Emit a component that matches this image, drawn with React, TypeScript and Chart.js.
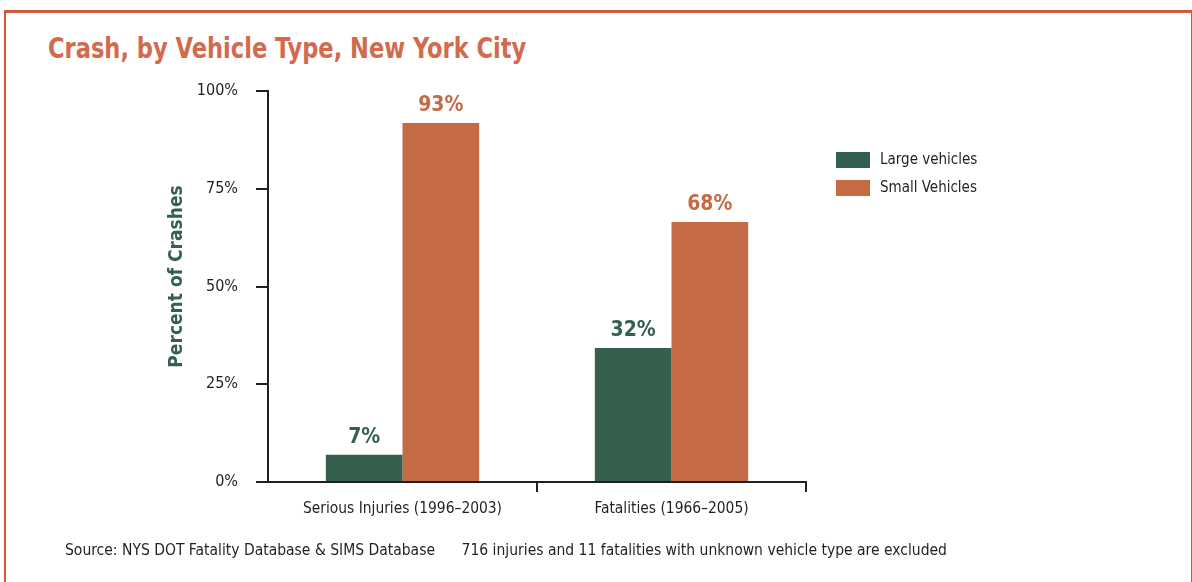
import React, { useEffect, useRef } from "react";
import { Chart, registerables } from "chart.js";

Chart.register(...registerables);

const categories = ["Serious Injuries (1996–2003)", "Fatalities (1966–2005)"];
const seriesNames = ["Large vehicles", "Small Vehicles"];
const largeBars = [7, 34.3];
const smallBars = [91.8, 66.5];
const largeLabels = ["7%", "32%"];
const smallLabels = ["93%", "68%"];
const yTickValues = [0, 25, 50, 75, 100];
const yTitle = "Percent of Crashes";

const GREEN = "#34604d";
const ORANGE = "#c46a44";
const TITLE_COLOR = "#d26b4d";
const TEXT = "#231f20";
const FONT = "'Liberation Sans Narrow', 'DejaVu Sans Condensed', 'Roboto', sans-serif";

export default function App() {
  const ref = useRef<HTMLCanvasElement | null>(null);

  useEffect(() => {
    if (!ref.current) return;
    const valueLabels = [largeLabels, smallLabels];

    const labelPlugin = {
      id: "valueLabels",
      afterDatasetsDraw(chart: any) {
        const ctx = chart.ctx;
        ctx.save();
        chart.data.datasets.forEach((ds: any, di: number) => {
          const meta = chart.getDatasetMeta(di);
          meta.data.forEach((el: any, i: number) => {
            ctx.font = `bold 21px ${FONT}`;
            ctx.fillStyle = ds.backgroundColor;
            ctx.textAlign = "center";
            ctx.textBaseline = "bottom";
            ctx.fillText(valueLabels[di][i], el.x, el.y - 7);
          });
        });
        ctx.restore();
      },
    };

    const legendPlugin = {
      id: "customLegend",
      afterDraw(chart: any) {
        const ctx = chart.ctx;
        const area = chart.chartArea;
        ctx.save();
        chart.data.datasets.forEach((ds: any, di: number) => {
          const x = area.right + 30;
          const y = area.top + 61 + di * 28;
          ctx.fillStyle = ds.backgroundColor;
          ctx.fillRect(x, y, 34, 16);
          ctx.fillStyle = TEXT;
          ctx.font = `15px ${FONT}`;
          ctx.textAlign = "left";
          ctx.textBaseline = "middle";
          ctx.fillText(ds.label, x + 44, y + 8);
        });
        // y-axis title
        ctx.save();
        ctx.translate(area.left - 91, (area.top + area.bottom) / 2 - 10);
        ctx.rotate(-Math.PI / 2);
        ctx.font = `bold 19px ${FONT}`;
        ctx.fillStyle = GREEN;
        ctx.textAlign = "center";
        ctx.textBaseline = "middle";
        ctx.fillText(yTitle, 0, 0);
        ctx.restore();
        ctx.restore();
      },
    };

    const chart = new Chart(ref.current, {
      type: "bar",
      data: {
        labels: categories,
        datasets: [
          { label: seriesNames[0], data: largeBars, backgroundColor: GREEN },
          { label: seriesNames[1], data: smallBars, backgroundColor: ORANGE },
        ],
      },
      options: {
        animation: false,
        responsive: false,
        maintainAspectRatio: false,
        layout: { padding: { left: 150, top: 91, right: 386, bottom: 60 } },
        datasets: { bar: { categoryPercentage: 0.57, barPercentage: 1 } },
        plugins: {
          legend: { display: false },
          tooltip: { enabled: false },
          title: { display: false },
        },
        scales: {
          x: {
            afterFit: (s: any) => { s.height = 40; },
            border: { display: true, color: TEXT, width: 2 },
            grid: {
              offset: true,
              drawOnChartArea: false,
              drawTicks: true,
              tickLength: 10,
              lineWidth: 2,
              color: (c: any) => (c.index === 0 ? "rgba(0,0,0,0)" : TEXT),
            },
            ticks: { color: TEXT, font: { family: FONT, size: 15.4 }, padding: 8 },
          },
          y: {
            min: 0,
            max: 100,
            afterFit: (s: any) => { s.width = 118; },
            afterBuildTicks: (s: any) => { s.ticks = yTickValues.map((v) => ({ value: v })); },
            border: { display: true, color: TEXT, width: 2 },
            grid: {
              drawOnChartArea: false,
              drawTicks: true,
              tickLength: 12,
              lineWidth: 2,
              color: TEXT,
            },
            ticks: {
              color: TEXT,
              font: { family: FONT, size: 16 },
              padding: 18,
              callback: (v: any) => `${v}%`,
            },
          },
        },
      },
      plugins: [labelPlugin, legendPlugin],
    });
    return () => chart.destroy();
  }, []);

  return (
    <div style={{ position: "fixed", left: 0, top: 0, width: 1192, height: 582, background: "#fff", overflow: "hidden", fontFamily: FONT }}>
      <div style={{ position: "absolute", left: 4, top: 10, width: 1185, height: 600, borderTop: "3px solid #cf5a3c", borderLeft: "2px solid #cf5a3c", borderRight: "1.5px solid #cf5a3c" }} />
      <div style={{ position: "absolute", left: 48, top: 31, fontSize: 29, fontWeight: "bold", color: TITLE_COLOR, whiteSpace: "nowrap", transform: "scaleX(0.865)", transformOrigin: "left top" }}>
        Crash, by Vehicle Type, New York City
      </div>
      <canvas ref={ref} width={1192} height={582} style={{ position: "absolute", left: 0, top: 0 }} />
      <div style={{ position: "absolute", left: 65, top: 541, fontSize: 15.5, color: TEXT, whiteSpace: "nowrap" }}>
        Source: NYS DOT Fatality Database &amp; SIMS Database&nbsp;&nbsp;&nbsp;&nbsp;&nbsp;&nbsp;716 injuries and 11 fatalities with unknown vehicle type are excluded
      </div>
    </div>
  );
}
